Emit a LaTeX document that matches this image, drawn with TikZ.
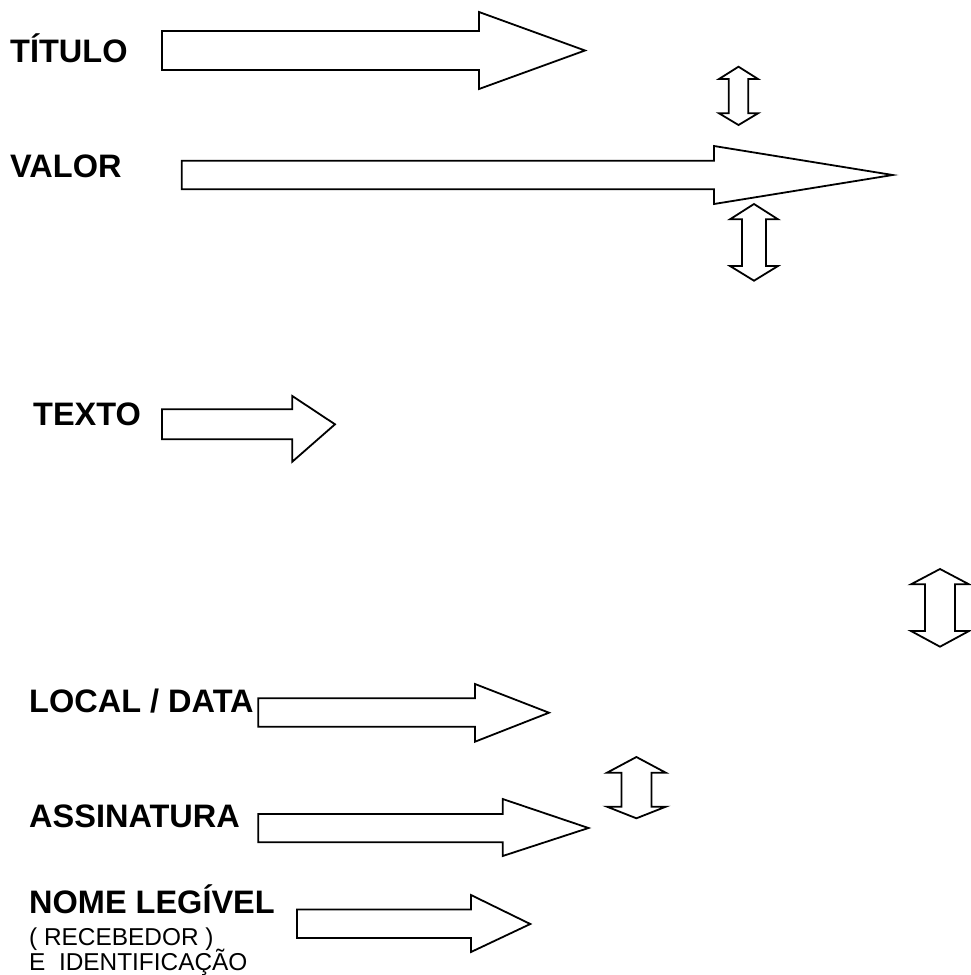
\documentclass[tikz,border=0pt]{standalone}
\usepackage{fontspec}
\setmainfont{Liberation Sans}
\begin{document}
\begin{tikzpicture}[x=1pt,y=-1pt,
  blockarrow/.style={draw=black,line width=1.8pt,fill=white,line join=miter,miter limit=20},
  biglabel/.style={anchor=base west,inner sep=0pt,font=\fontsize{32.5}{37}\selectfont\bfseries},
  smalllabel/.style={anchor=base west,inner sep=0pt,font=\fontsize{24.4}{28}\selectfont}]
% page frame
\useasboundingbox (0,0) rectangle (970,975);

% right-pointing block arrow:
% {left}{shaft top}{shaft bottom}{head base x}{head top}{head bottom}{tip x}{tip y}
\newcommand{\blockright}[8]{%
  \draw[blockarrow] (#1,#2) -- (#4,#2) -- (#4,#5) -- (#7,#8) -- (#4,#6)
    -- (#4,#3) -- (#1,#3) -- cycle;}
% vertical double-headed block arrow:
% {centre x}{shaft half width}{head half width}{top tip}{top head base}{bottom head base}{bottom tip}
\newcommand{\blockupdown}[7]{%
  \draw[blockarrow] (#1,#4) -- (#1+#3,#5) -- (#1+#2,#5) -- (#1+#2,#6)
    -- (#1+#3,#6) -- (#1,#7) -- (#1-#3,#6) -- (#1-#2,#6) -- (#1-#2,#5)
    -- (#1-#3,#5) -- cycle;}

% labels
\node[biglabel] (titulo) at (10,62) {TÍTULO};
\node[biglabel] (valor) at (10,177) {VALOR};
\node[biglabel] (texto) at (33,425) {TEXTO};
\node[biglabel] (localdata) at (29,712) {LOCAL / DATA};
\node[biglabel] (assinatura) at (29,827.5) {ASSINATURA};
\node[biglabel] (nome) at (29,913.5) {NOME LEGÍVEL};
\node[smalllabel] (recebedor) at (29,945) {( RECEBEDOR )};
\node[smalllabel] (ident) at (29,970.5) {E\ \ IDENTIFICAÇÃO};

% horizontal block arrows
\blockright{162}{31}{70}{479}{12}{89}{585}{50.5}
\blockright{181.7}{160.7}{189.3}{714}{146}{204}{892.7}{175}
\blockright{162}{409.3}{439.3}{292.3}{396}{461.7}{335}{424.3}
\blockright{258.3}{698.3}{726.7}{475}{684}{741.7}{549}{712.7}
\blockright{258.3}{814}{842.3}{502.7}{799}{856}{588.5}{828}
\blockright{297}{909.5}{938}{471}{895}{952}{530.3}{924}

% vertical double arrows
\blockupdown{738.5}{9.7}{19.5}{66.7}{79}{113.3}{125}
\blockupdown{754}{12}{24}{204}{219.3}{266}{280.7}
\blockupdown{940}{15}{29}{569}{584.3}{631}{646.7}
\blockupdown{636.4}{15}{29.4}{757}{772.7}{806.7}{818.3}
\end{tikzpicture}
\end{document}
